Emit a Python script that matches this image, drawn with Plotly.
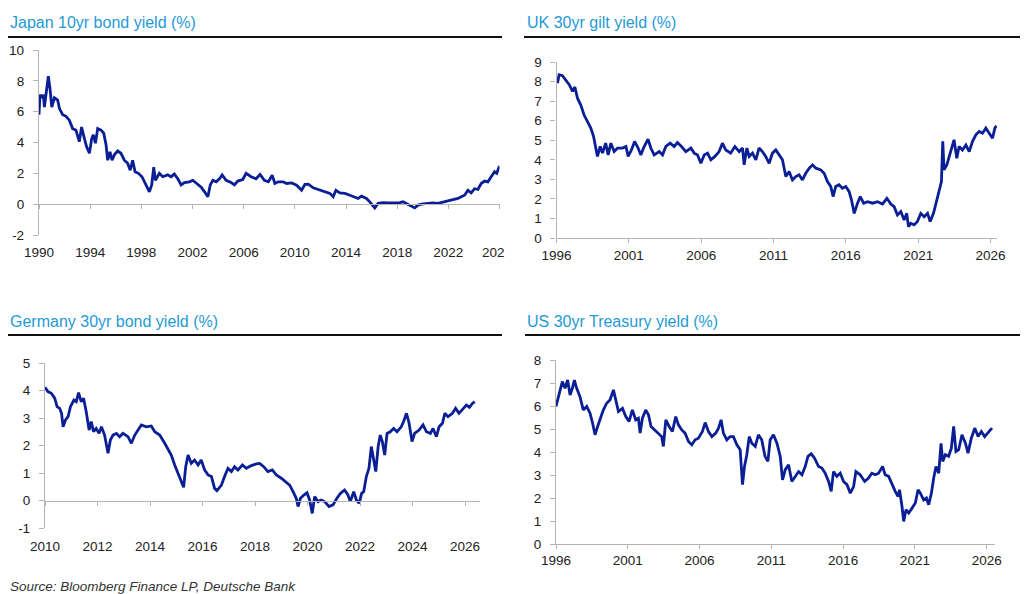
import plotly.graph_objects as go

W, H = 1024, 594
LINE = '#0a1e96'
BLUE_TXT = '#1f9ad6'
AX = '#b4b4b4'
TXT = '#222222'
FONT = 'Liberation Sans, Arial, sans-serif'

# Japan 10yr (decimal year, yield %)
jp_years = [1990.0, 1990.08, 1990.23, 1990.34, 1990.42, 1990.5, 1990.63, 1990.73, 1990.86, 1991.0,
            1991.2, 1991.46, 1991.6, 1991.85, 1992.11, 1992.37, 1992.63, 1992.89, 1993.15, 1993.33,
            1993.55, 1993.73, 1993.94, 1994.12, 1994.25, 1994.41, 1994.59, 1994.85, 1995.06, 1995.24,
            1995.37, 1995.55, 1995.71, 1995.89, 1996.15, 1996.41, 1996.67, 1996.93, 1997.13, 1997.32,
            1997.51, 1997.77, 1998.05, 1998.24, 1998.5, 1998.63, 1998.81, 1998.97, 1999.1, 1999.23,
            1999.41, 1999.67, 2000.06, 2000.32, 2000.58, 2000.85, 2001.11, 2001.37, 2001.76, 2002.02,
            2002.28, 2002.68, 2002.94, 2003.2, 2003.39, 2003.59, 2003.85, 2004.11, 2004.32, 2004.63,
            2005.02, 2005.28, 2005.54, 2005.93, 2006.19, 2006.58, 2006.97, 2007.28, 2007.62, 2007.93,
            2008.23, 2008.44, 2008.7, 2009.09, 2009.35, 2009.75, 2010.14, 2010.53, 2010.79, 2011.05,
            2011.44, 2011.83, 2012.35, 2012.74, 2013.0, 2013.21, 2013.52, 2013.91, 2014.3, 2014.69,
            2014.95, 2015.21, 2015.6, 2015.86, 2016.04, 2016.25, 2016.51, 2016.9, 2017.29, 2017.81,
            2018.2, 2018.46, 2018.85, 2019.11, 2019.37, 2019.63, 2019.89, 2020.41, 2020.8, 2021.19,
            2021.58, 2021.97, 2022.36, 2022.75, 2023.01, 2023.27, 2023.53, 2023.79, 2024.05, 2024.31,
            2024.57, 2024.83, 2025.09, 2025.35, 2025.61, 2025.78, 2025.92, 2026.0]
jp_vals = [5.8, 7.1, 6.9, 7.1, 6.3, 6.9, 7.7, 8.3, 7.5, 6.3,
           6.9, 6.75, 6.2, 5.8, 5.7, 5.45, 4.9, 4.8, 4.05, 5.0,
           4.25, 3.7, 3.3, 4.25, 4.5, 3.95, 4.9, 4.8, 4.6, 3.85,
           2.85, 3.4, 2.85, 3.2, 3.45, 3.3, 2.85, 2.65, 2.2, 2.85,
           2.1, 2.0, 1.78, 1.45, 1.1, 0.8, 1.25, 2.4, 1.55, 1.78,
           2.0, 1.78, 1.9, 1.78, 1.95, 1.65, 1.25, 1.4, 1.45, 1.55,
           1.35, 1.1, 0.8, 0.48, 1.25, 1.55, 1.45, 1.65, 1.9, 1.55,
           1.4, 1.25, 1.5, 1.6, 2.0, 1.78, 1.65, 1.93, 1.55, 1.45,
           1.88, 1.34, 1.45, 1.45, 1.34, 1.38, 1.23, 0.9, 1.28, 1.3,
           1.06, 0.95, 0.8, 0.7, 0.48, 0.9, 0.73, 0.7, 0.58, 0.48,
           0.37, 0.52, 0.37, 0.15, -0.02, -0.24, 0.05, 0.1, 0.08, 0.08,
           0.1, 0.15, 0.0, -0.13, -0.24, -0.06, 0.0, 0.05, 0.08, 0.05,
           0.13, 0.22, 0.26, 0.37, 0.48, 0.58, 0.9, 0.73, 1.0, 0.95,
           1.34, 1.5, 1.45, 1.77, 2.1, 2.0, 2.3, 2.47]

# UK 30yr gilt
uk_years = [1996.07, 1996.18, 1996.41, 1996.64, 1996.88, 1997.11, 1997.27, 1997.45, 1997.68, 1997.9,
            1998.14, 1998.37, 1998.56, 1998.72, 1998.83, 1999.02, 1999.18, 1999.4, 1999.57, 1999.76,
            1999.99, 2000.22, 2000.56, 2000.8, 2000.95, 2001.18, 2001.4, 2001.64, 2001.83, 2002.06,
            2002.33, 2002.52, 2002.75, 2003.1, 2003.33, 2003.56, 2003.86, 2004.13, 2004.36, 2004.64,
            2004.94, 2005.29, 2005.52, 2005.75, 2005.98, 2006.21, 2006.44, 2006.67, 2006.95, 2007.24,
            2007.47, 2007.7, 2008.04, 2008.33, 2008.63, 2008.86, 2008.97, 2009.16, 2009.32, 2009.55,
            2009.78, 2010.0, 2010.23, 2010.46, 2010.7, 2010.93, 2011.16, 2011.39, 2011.62, 2011.85,
            2012.08, 2012.31, 2012.54, 2012.77, 2013.0, 2013.23, 2013.47, 2013.7, 2013.93, 2014.27,
            2014.5, 2014.73, 2014.96, 2015.12, 2015.3, 2015.53, 2015.76, 2016.0, 2016.23, 2016.39,
            2016.58, 2016.81, 2017.0, 2017.23, 2017.5, 2017.85, 2018.19, 2018.54, 2018.84, 2019.11,
            2019.34, 2019.57, 2019.8, 2020.03, 2020.21, 2020.33, 2020.49, 2020.72, 2020.95, 2021.18,
            2021.42, 2021.65, 2021.83, 2022.06, 2022.29, 2022.45, 2022.61, 2022.7, 2022.79, 2022.98,
            2023.14, 2023.3, 2023.48, 2023.67, 2023.83, 2024.06, 2024.3, 2024.53, 2024.76, 2024.99,
            2025.22, 2025.45, 2025.68, 2025.91, 2026.14, 2026.3, 2026.41]
uk_vals = [7.92, 8.35, 8.3, 8.1, 7.84, 7.5, 7.72, 7.15, 6.8, 6.3,
           5.96, 5.62, 5.2, 4.6, 4.17, 4.68, 4.34, 4.85, 4.25, 4.85,
           4.42, 4.6, 4.6, 4.68, 4.17, 4.5, 4.94, 4.6, 4.25, 4.68,
           5.05, 4.6, 4.25, 4.42, 4.25, 4.68, 4.85, 4.68, 4.88, 4.68,
           4.42, 4.6, 4.34, 4.25, 3.82, 4.25, 4.34, 4.0, 4.17, 4.42,
           4.85, 4.5, 4.34, 4.68, 4.42, 4.6, 3.74, 4.6, 4.17, 4.34,
           4.0, 4.6, 4.42, 4.17, 3.82, 4.34, 4.5, 4.25, 4.0, 3.14,
           3.4, 2.97, 3.14, 3.23, 2.97, 3.31, 3.57, 3.74, 3.57, 3.48,
           3.31, 2.89, 2.63, 2.12, 2.63, 2.72, 2.54, 2.63, 2.37, 1.95,
           1.26, 1.78, 2.12, 1.78, 1.86, 1.78, 1.86, 1.74, 2.03, 1.74,
           1.6, 1.18, 1.35, 0.92, 1.26, 0.58, 0.75, 0.67, 0.84, 1.26,
           1.09, 1.26, 0.84, 1.26, 1.95, 2.29, 2.89, 4.94, 3.48, 3.74,
           4.17, 4.6, 5.02, 4.08, 4.68, 4.5, 4.76, 4.42, 4.94, 5.28,
           5.45, 5.36, 5.62, 5.36, 5.1, 5.62, 5.74]

# Germany 30yr bund
de_years = [2010.0, 2010.11, 2010.24, 2010.37, 2010.46, 2010.56, 2010.63, 2010.69, 2010.78, 2010.88,
            2010.97, 2011.1, 2011.19, 2011.28, 2011.38, 2011.47, 2011.57, 2011.68, 2011.76, 2011.85,
            2011.95, 2012.06, 2012.15, 2012.27, 2012.4, 2012.49, 2012.59, 2012.72, 2012.84, 2012.97,
            2013.16, 2013.29, 2013.42, 2013.54, 2013.67, 2013.86, 2014.05, 2014.18, 2014.37, 2014.56,
            2014.69, 2014.81, 2014.94, 2015.07, 2015.2, 2015.28, 2015.36, 2015.45, 2015.57, 2015.7,
            2015.83, 2015.95, 2016.08, 2016.21, 2016.34, 2016.46, 2016.55, 2016.72, 2016.84, 2016.97,
            2017.1, 2017.22, 2017.35, 2017.52, 2017.67, 2017.86, 2018.05, 2018.18, 2018.33, 2018.49,
            2018.66, 2018.81, 2019.0, 2019.17, 2019.32, 2019.45, 2019.57, 2019.64, 2019.73, 2019.86,
            2019.98, 2020.08, 2020.18, 2020.27, 2020.4, 2020.52, 2020.65, 2020.82, 2020.97, 2021.12,
            2021.25, 2021.41, 2021.54, 2021.63, 2021.76, 2021.86, 2021.97, 2022.06, 2022.14, 2022.24,
            2022.34, 2022.43, 2022.52, 2022.6, 2022.69, 2022.77, 2022.85, 2022.94, 2023.03, 2023.15,
            2023.28, 2023.41, 2023.57, 2023.66, 2023.77, 2023.87, 2023.98, 2024.08, 2024.25, 2024.4,
            2024.53, 2024.68, 2024.78, 2024.91, 2025.01, 2025.14, 2025.23, 2025.35, 2025.52, 2025.64,
            2025.77, 2025.92, 2026.05, 2026.17, 2026.28, 2026.37]
de_vals = [4.12, 3.96, 3.9, 3.72, 3.41, 3.35, 3.17, 2.68, 2.93, 3.05,
           3.41, 3.65, 3.59, 3.92, 3.59, 3.72, 3.23, 2.56, 2.87, 2.5,
           2.62, 2.44, 2.68, 2.38, 1.72, 2.2, 2.38, 2.44, 2.32, 2.44,
           2.32, 2.08, 2.38, 2.56, 2.75, 2.68, 2.71, 2.5, 2.38, 2.08,
           1.84, 1.65, 1.29, 0.99, 0.68, 0.48, 1.23, 1.65, 1.35, 1.47,
           1.29, 1.47, 1.11, 0.93, 0.87, 0.44, 0.36, 0.56, 0.87, 1.17,
           1.05, 1.23, 1.11, 1.29, 1.17, 1.27, 1.33, 1.35, 1.23, 1.05,
           1.11, 0.93, 0.81, 0.68, 0.56, 0.32, 0.08, -0.22, 0.08, 0.2,
           0.28, 0.02, -0.47, 0.14, -0.04, 0.02, -0.04, -0.22, -0.16, 0.08,
           0.26, 0.38, 0.2, -0.04, 0.32, 0.02, -0.1, 0.26, 0.32, 0.87,
           1.17, 1.96, 1.53, 1.05, 1.96, 2.38, 2.14, 1.65, 2.44, 2.5,
           2.62, 2.5, 2.68, 2.87, 3.17, 2.81, 2.14, 2.44, 2.56, 2.75,
           2.5, 2.44, 2.62, 2.32, 2.68, 2.81, 3.17, 3.05, 3.17, 3.35,
           3.17, 3.35, 3.47, 3.39, 3.53, 3.59]

# US 30yr Treasury
us_years = [1996.0, 1996.12, 1996.28, 1996.44, 1996.63, 1996.81, 1996.98, 1997.14, 1997.28, 1997.44,
            1997.67, 1997.9, 1998.14, 1998.37, 1998.55, 1998.72, 1998.9, 1999.07, 1999.3, 1999.53,
            1999.77, 2000.0, 2000.16, 2000.35, 2000.63, 2000.86, 2001.09, 2001.32, 2001.55, 2001.74,
            2001.86, 2002.02, 2002.25, 2002.44, 2002.62, 2002.86, 2003.13, 2003.36, 2003.48, 2003.65,
            2003.88, 2004.11, 2004.34, 2004.53, 2004.76, 2004.99, 2005.23, 2005.46, 2005.69, 2005.92,
            2006.2, 2006.39, 2006.62, 2006.86, 2007.13, 2007.32, 2007.5, 2007.66, 2007.9, 2008.13,
            2008.36, 2008.6, 2008.83, 2008.99, 2009.13, 2009.29, 2009.46, 2009.64, 2009.88, 2010.1,
            2010.33, 2010.56, 2010.76, 2010.92, 2011.15, 2011.39, 2011.62, 2011.78, 2011.97, 2012.2,
            2012.43, 2012.66, 2012.9, 2013.13, 2013.36, 2013.55, 2013.78, 2014.01, 2014.29, 2014.52,
            2014.75, 2014.99, 2015.17, 2015.33, 2015.56, 2015.8, 2016.03, 2016.27, 2016.5, 2016.73,
            2016.89, 2017.19, 2017.5, 2017.77, 2018.0, 2018.24, 2018.47, 2018.75, 2018.93, 2019.17,
            2019.4, 2019.63, 2019.82, 2019.93, 2020.1, 2020.22, 2020.38, 2020.57, 2020.8, 2021.03,
            2021.22, 2021.38, 2021.61, 2021.8, 2021.96, 2022.15, 2022.31, 2022.47, 2022.66, 2022.82,
            2022.94, 2023.12, 2023.35, 2023.54, 2023.7, 2023.86, 2024.05, 2024.28, 2024.52, 2024.7,
            2024.93, 2025.17, 2025.4, 2025.63, 2025.86, 2026.1, 2026.26, 2026.37]
us_vals = [5.98, 6.27, 6.7, 7.06, 6.77, 7.13, 6.48, 6.77, 7.13, 6.77,
           6.41, 5.83, 5.98, 5.69, 5.25, 4.75, 5.11, 5.4, 5.83, 6.12,
           6.27, 6.7, 6.27, 5.76, 5.9, 5.54, 5.33, 5.83, 5.4, 5.47,
           4.82, 5.47, 5.83, 5.62, 5.11, 4.96, 4.82, 4.67, 4.24, 5.4,
           5.11, 4.89, 5.54, 5.18, 4.96, 4.82, 4.46, 4.31, 4.53, 4.6,
           4.89, 5.28, 4.89, 4.67, 4.82, 5.04, 5.4, 4.82, 4.53, 4.67,
           4.67, 4.31, 4.1, 2.58, 3.37, 3.88, 4.67, 4.38, 4.24, 4.75,
           4.53, 3.81, 3.59, 4.53, 4.75, 4.38, 3.81, 2.79, 3.23, 3.44,
           2.72, 2.94, 3.15, 3.01, 3.37, 3.81, 3.92, 3.73, 3.37, 3.3,
           3.08, 2.72, 2.29, 3.15, 2.94, 3.08, 2.72, 2.58, 2.21, 2.5,
           3.15, 3.01, 2.72, 2.87, 3.08, 3.01, 3.08, 3.37, 3.01, 2.94,
           2.58, 2.29, 2.07, 2.36, 1.64, 0.98, 1.49, 1.35, 1.56, 1.78,
           2.36, 2.21, 1.92, 2.0, 1.71, 2.21, 2.87, 3.37, 3.08, 4.38,
           3.59, 3.88, 3.81, 4.17, 5.11, 4.02, 4.1, 4.75, 4.38, 3.95,
           4.6, 5.04, 4.67, 4.89, 4.67, 4.82, 4.96, 5.04]


def xd(a, b):
    return [a / W, b / W]


def yd(top, bottom):
    return [1 - bottom / H, 1 - top / H]


def ypos(px):
    return 1 - px / H


tickfont = dict(family=FONT, size=13.5, color=TXT)

panels = [
    dict(years=jp_years, vals=jp_vals, xdom=(39, 499.5), ydom=(50, 235), xr=[1990, 2026.0], yr=[-2, 10],
         xt=list(range(1990, 2023, 4)), yt=list(range(-2, 11, 2)), zero=204, standoff=7),
    dict(years=uk_years, vals=uk_vals, xdom=(556.5, 997), ydom=(62, 238), xr=[1996, 2026.45], yr=[0, 9],
         xt=list(range(1996, 2027, 5)), yt=list(range(0, 10)), zero=None, standoff=1),
    dict(years=de_years, vals=de_vals, xdom=(45, 480), ydom=(363, 528), xr=[2010, 2026.57], yr=[-1, 5],
         xt=list(range(2010, 2027, 2)), yt=list(range(-1, 6)), zero=500.5, standoff=8),
    dict(years=us_years, vals=us_vals, xdom=(556, 995), ydom=(360, 544), xr=[1996, 2026.58], yr=[0, 8],
         xt=list(range(1996, 2027, 5)), yt=list(range(0, 9)), zero=None, standoff=0),
]

fig = go.Figure()
layout = {}
extra = 5
for i, p in enumerate(panels, start=1):
    xa = 'x' if i == 1 else f'x{i}'
    ya = 'y' if i == 1 else f'y{i}'
    fig.add_trace(go.Scatter(x=p['years'], y=p['vals'], mode='lines', xaxis=xa, yaxis=ya,
                             line=dict(color=LINE, width=2.8), showlegend=False, hoverinfo='skip'))
    bottom_axis = p['zero'] is None
    layout[f'xaxis{"" if i == 1 else i}'] = dict(
        domain=xd(*p['xdom']), range=p['xr'], anchor=ya, tickmode='array', tickvals=p['xt'],
        showgrid=False, zeroline=False, showline=bottom_axis, linecolor=AX, linewidth=1.3,
        ticks='outside' if bottom_axis else '', ticklen=4, tickcolor=AX, tickfont=tickfont,
        ticklabelstandoff=p['standoff'], automargin=False, fixedrange=True)
    layout[f'yaxis{"" if i == 1 else i}'] = dict(
        domain=yd(*p['ydom']), range=p['yr'], anchor=xa, tickmode='array', tickvals=p['yt'],
        ticktext=[str(v) for v in p['yt']],
        showgrid=False, zeroline=False, showline=True, linecolor=AX, linewidth=1.3,
        ticks='outside', ticklen=5, tickcolor=AX, tickfont=tickfont, ticklabelstandoff=6,
        automargin=False, fixedrange=True)
    if not bottom_axis:
        # axis line with ticks running along the zero level
        xz = f'x{extra}'
        layout[f'xaxis{extra}'] = dict(
            overlaying=xa, anchor='free', position=ypos(p['zero']), range=p['xr'],
            tickmode='array', tickvals=p['xt'] + ([2026] if i == 1 else []), showgrid=False,
            zeroline=False, showline=True, linecolor=AX, linewidth=1.3, ticks='outside',
            ticklen=4, tickcolor=AX, showticklabels=False, automargin=False, fixedrange=True)
        fig.add_trace(go.Scatter(x=[None], y=[None], xaxis=xz, yaxis=ya, showlegend=False,
                                 hoverinfo='skip'))
        extra += 1

titles = [
    ('Japan 10yr bond yield (%)', 8, 23, 8, 502, 37),
    ('UK 30yr gilt yield (%)', 525, 23, 524, 1020, 37),
    ('Germany 30yr bond yield (%)', 8, 321, 8, 502, 335),
    ('US 30yr Treasury yield (%)', 525, 321, 525, 1020, 335),
]
annotations = []
shapes = []
for text, tx, ty, x0, x1, ly in titles:
    annotations.append(dict(text=text, x=tx / W, y=ypos(ty), xref='paper', yref='paper',
                            xanchor='left', yanchor='middle', showarrow=False,
                            font=dict(family=FONT, size=16, color=BLUE_TXT)))
    shapes.append(dict(type='line', xref='paper', yref='paper', x0=x0 / W, x1=x1 / W,
                       y0=ypos(ly), y1=ypos(ly), line=dict(color='#111111', width=2)))

# last Japan tick label is cut off at the panel edge in the source
annotations.append(dict(text='202', x=480 / W, y=ypos(252), xref='paper', yref='paper',
                        xanchor='left', yanchor='middle', showarrow=False, font=tickfont))
annotations.append(dict(text='<i>Source: Bloomberg Finance LP, Deutsche Bank</i>', x=8 / W,
                        y=ypos(586), xref='paper', yref='paper', xanchor='left', yanchor='middle',
                        showarrow=False, font=dict(family=FONT, size=13.5, color='#333333')))

fig.update_layout(width=W, height=H, margin=dict(l=0, r=0, t=0, b=0), paper_bgcolor='white',
                  plot_bgcolor='white', showlegend=False, annotations=annotations, shapes=shapes,
                  **layout)
# the page's default body margin would shift the figure by 8px
fig.write_html("out.html", config={'displayModeBar': False},
               post_script="document.body.style.margin='0';")
